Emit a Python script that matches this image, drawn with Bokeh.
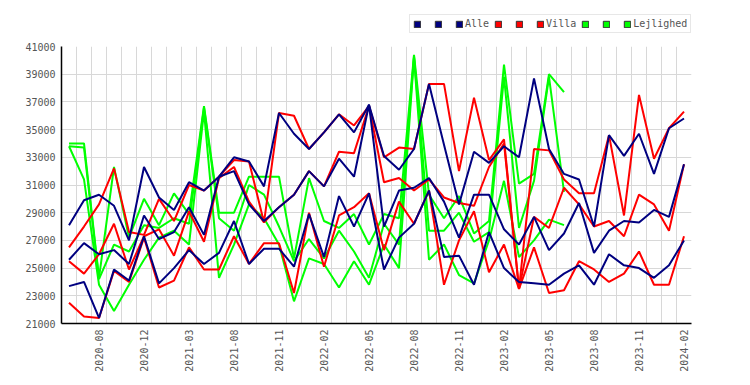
import math
from bokeh.plotting import figure
from bokeh.layouts import column
from bokeh.models import Range1d, FixedTicker, Legend, LegendItem
from bokeh.core.properties import value
from bokeh.embed import file_html
from bokeh.resources import INLINE

NaN = float("nan")

# --- data -------------------------------------------------------------
months = list(range(42))  # monthly observation index
label_idx = [2, 5, 8, 11, 14, 17, 20, 23, 26, 29, 32, 35, 38, 41]
tick_labels = ["2020-08", "2020-12", "2021-03", "2021-08", "2021-11", "2022-02", "2022-05",
               "2022-08", "2022-11", "2023-02", "2023-05", "2023-08", "2023-11", "2024-02"]
y_ticks = [21000, 23000, 25000, 27000, 29000, 31000, 33000, 35000, 37000, 39000, 41000]

alle_high = [28100, 29900, 30300, 29500, 27000, 32300, 30100, 29200, 31200, 30600, 31600, 33000, 32700, 30900,
             36200, 34700, 33600, 34800, 36100, 34800, 36800, 33100, 32100, 33600, 38300, 33900, 29600,
             33400, 32600, 33800, 33000, 38700, 33600, 31800, 31400, 28000, 34600, 33100, 34700, 31800, 35100, 35800]
alle_mid = [25600, 26800, 26000, 26300, 25300, 28800, 27100, 27600, 29400, 27400, 31600, 32000, 29600, 28400,
            29400, 30300, 32000, 30900, 32900, 31600, 36800, 28000, 30600, 30800, 31500, 29800, 27200,
            30300, 30300, 27800, 26700, 28700, 26300, 27500, 29700, 26100, 27700, 28400, 28300, 29200, 28700, 32500]
alle_low = [23700, 24000, 21400, 24900, 24100, 27300, 23900, 25000, 26300, 25300, 26100, 28400, 25300, 26400,
            26400, 25100, 28900, 25800, 30200, 28000, 30400, 24900, 27200, 28200, 30600, 25800, 25900,
            23800, 27600, 25000, 24000, 23900, 23800, 24600, 25200, 23800, 26000, 25200, 25000, 24300, 25200, 27000]

villa_high = [26500, 28000, 29600, 32200, 27600, 27400, 30000, 28400, 31000, 30600, 31600, 32800, 32700, 28300,
              36200, 36000, 33600, 34800, 36100, 35300, 36700, 33000, 33700, 33600, 38300, 38300, 32000,
              37300, 32800, 34300, 23500, 33600, 33500, 31400, 30400, 30400, 34600, 28800, 37500, 32900, 35100, 36300]
villa_mid = [25500, 24600, 26000, 28200, 24900, 27300, 27800, 25900, 29100, 26900, 31500, 32300, 29800, 28300,
             29400, 30300, 32000, 30900, 33400, 33300, 36700, 31200, 31500, 30600, 31400, 30100, 29700,
             29500, 32300, 34000, 23500, 28700, 27900, 30800, 29600, 28000, 28400, 27300, 30300, 29600, 27700, 32500]
villa_low = [22500, 21500, 21400, 24800, 24000, 27200, 23600, 24100, 26500, 24900, 24900, 27300, 25300, 26800,
             26800, 23200, 29000, 25100, 28800, 29400, 30400, 26300, 29800, 28200, 30600, 23800, 27000,
             29100, 24700, 26700, 23500, 26500, 23200, 23400, 25500, 24900, 24000, 24600, 26200, 23800, 23800, 27300]

lejl_high = [34000, 34000, 24300, 32300, 27200, 30000, 28100, 30400, 28900, 36700, 29000, 29000, 31600, 31600,
             31600, 25700, 31500, 28400, 27900, 28900, 26700, 28900, 28600, 40400, 30300, 28600, 30200,
             27500, 28400, 39700, 31100, 31800, 39000, 37700, NaN, NaN, NaN, NaN, NaN, NaN, NaN, NaN]
lejl_mid = [33800, 33700, 24200, 26700, 26200, 28100, 27900, 28600, 28200, 36600, 28600, 27700, 31000, 30300,
            28000, 25500, 27100, 25700, 27700, 26200, 24300, 28200, 26700, 40300, 27700, 27700, 29000,
            26900, 27600, 38800, 27900, 31300, 38800, 30500, NaN, NaN, NaN, NaN, NaN, NaN, NaN, NaN]
lejl_low = [33800, 31400, 23800, 21900, 23800, 25600, 27200, 27700, 26700, 36300, 24300, 26700, 29600, 28600,
            26700, 22600, 25700, 25300, 23600, 25500, 23800, 26700, 25000, 40200, 25600, 26700, 24500,
            23900, 27000, 31300, 25800, 27000, 28500, 28100, NaN, NaN, NaN, NaN, NaN, NaN, NaN, NaN]

series_names = ["Alle", "Villa", "Lejlighed"]
colors = {"Alle": "#000080", "Villa": "#ff0000", "Lejlighed": "#00ff00"}
groups = {"Alle": [alle_high, alle_mid, alle_low],
          "Villa": [villa_high, villa_mid, villa_low],
          "Lejlighed": [lejl_high, lejl_mid, lejl_low]}

FONT = "DejaVu Sans Mono"
TXT = "#555555"

# --- legend strip (own small figure above the chart) --------------------
lf = figure(width=742, height=38, output_backend="svg", toolbar_location=None,
            x_axis_location=None, y_axis_location=None, min_border=0,
            x_range=Range1d(0, 1), y_range=Range1d(0, 1))
lf.outline_line_color = None
lf.grid.visible = False

items = []
for name in series_names:
    for k in range(3):
        r = lf.quad(left=[NaN], right=[NaN], top=[NaN], bottom=[NaN], fill_color=colors[name],
                    line_color="#333333", line_width=1)
        items.append(LegendItem(label=value(name if k == 2 else " "), renderers=[r]))

legend = Legend(items=items, orientation="horizontal", location=(348, 5),
                glyph_width=8, glyph_height=8, label_standoff=2, spacing=5, padding=3, margin=0,
                label_height=8, label_width=6, label_text_font=FONT, label_text_font_size="10px",
                label_text_color=TXT, border_line_color="#d0d0d0", border_line_width=1,
                background_fill_color="white", background_fill_alpha=1)
lf.add_layout(legend)

# --- main chart ---------------------------------------------------------
p = figure(width=742, height=339, output_backend="svg", toolbar_location=None,
           x_range=Range1d(-0.5, len(months) - 0.5), y_range=Range1d(y_ticks[0], y_ticks[-1]),
           min_border_left=61, min_border_right=51, min_border_top=8, min_border_bottom=54)
p.outline_line_color = None
p.background_fill_color = "white"

p.xgrid.ticker = FixedTicker(ticks=[m + 0.5 for m in months])
p.ygrid.ticker = FixedTicker(ticks=y_ticks)
for g in (p.xgrid, p.ygrid):
    g.grid_line_color = "#d8d8d8"
    g.grid_line_width = 1

p.xaxis.ticker = FixedTicker(ticks=label_idx)
p.xaxis.major_label_overrides = {i: t for i, t in zip(label_idx, tick_labels)}
p.xaxis.major_label_orientation = math.pi / 2
p.yaxis.ticker = FixedTicker(ticks=y_ticks)
for ax in (p.xaxis, p.yaxis):
    ax.axis_line_color = "black"
    ax.axis_line_width = 1.5
    ax.major_tick_line_color = None
    ax.minor_tick_line_color = None
    ax.major_tick_out = 0
    ax.major_tick_in = 0
    ax.major_label_text_font = FONT
    ax.major_label_text_font_size = "10px"
    ax.major_label_text_color = TXT
p.xaxis.major_label_standoff = 6
p.yaxis.major_label_standoff = 6

for name in ["Lejlighed", "Villa", "Alle"]:
    for ys in groups[name]:
        p.line(months, ys, line_color=colors[name], line_width=2)

layout = column(lf, p, spacing=0)
open("out.html", "w").write(file_html(layout, INLINE))
